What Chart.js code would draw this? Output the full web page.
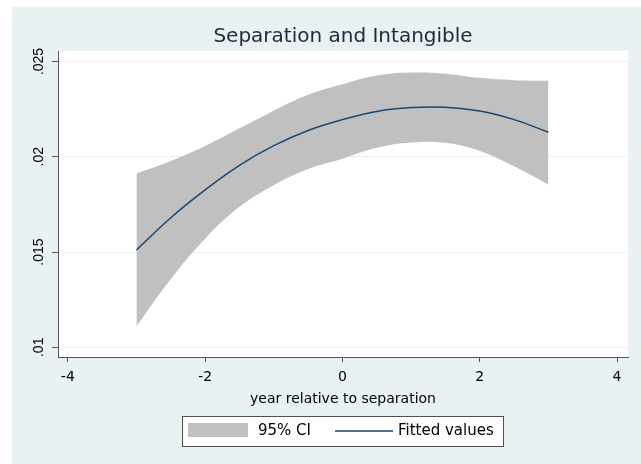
<!DOCTYPE html>
<html>
<head>
<meta charset="utf-8">
<title>Separation and Intangible</title>
<script src="https://cdn.jsdelivr.net/npm/chart.js@4.4.1/dist/chart.umd.min.js"></script>
<style>
    html, body { margin: 0; padding: 0; width: 641px; height: 464px; overflow: hidden; background: #ffffff; }
    #caption { position: absolute; left: 0; top: 0; width: 641px; height: 7px; overflow: hidden; }
    #caption span { position: absolute; left: 197px; top: -22px; font: bold 21px/21px "Liberation Serif", serif; white-space: nowrap; color: #000; }
    #panel { position: absolute; left: 12px; top: 7px; width: 629px; height: 457px; background: #e9f1f2; overflow: hidden; }
    #chart { position: absolute; left: 0; top: 0; width: 662px; height: 457px; }
</style>
</head>
<body>
<div id="caption"><span>(a) Separation and Intangible</span></div>
<div id="panel"><canvas id="chart" width="662" height="457"></canvas></div>
<script>
// Valeurs (ajustement quadratique + IC 95%)
const years = [-3, -2.5, -2, -1.5, -1, -0.5, 0, 0.5, 1, 1.5, 2, 2.5, 3];
const fitted = [0.01511, 0.01680, 0.01826, 0.01955, 0.02058, 0.02138, 0.02195, 0.02238, 0.02258, 0.02260, 0.02240, 0.02195, 0.02129];
const ciUpper = [0.01912, 0.01978, 0.02057, 0.02149, 0.02242, 0.02325, 0.02380, 0.02426, 0.02442, 0.02436, 0.02414, 0.02402, 0.02399];
const ciLower = [0.01110, 0.01358, 0.01570, 0.01737, 0.01851, 0.01936, 0.01990, 0.02047, 0.02075, 0.02073, 0.02030, 0.01950, 0.01854];

const xTicks = [-4, -2, 0, 2, 4];
const yTicks = [0.01, 0.015, 0.02, 0.025];

const chartTitle = 'Separation and Intangible';
const xTitle = 'year relative to separation';
const ciLabel = '95% CI';
const fitLabel = 'Fitted values';

const toPoints = values => values.map((v, i) => ({ x: years[i], y: v }));

// fond blanc de la zone de tracé
const plotBackground = {
    id: 'plotBackground',
    beforeDraw(chart) {
        const { ctx, chartArea: a } = chart;
        ctx.save();
        ctx.fillStyle = '#ffffff';
        ctx.fillRect(a.left, a.top, a.right - a.left, a.bottom - a.top);
        ctx.restore();
    }
};

// légende encadrée façon Stata
const boxedLegend = {
    id: 'boxedLegend',
    afterDraw(chart) {
        const ctx = chart.ctx;
        const cx = chart.width / 2;
        const top = chart.height - 48;
        const ds = chart.data.datasets;
        ctx.save();
        ctx.fillStyle = '#ffffff';
        ctx.fillRect(cx - 160.5, top + 0.5, 321, 30);
        ctx.strokeStyle = '#505050';
        ctx.lineWidth = 1;
        ctx.strokeRect(cx - 160.5, top + 0.5, 321, 30);

        ctx.fillStyle = ds[1].backgroundColor;
        ctx.fillRect(cx - 155, top + 7, 60, 14);

        ctx.strokeStyle = ds[0].borderColor;
        ctx.lineWidth = 1.5;
        ctx.beginPath();
        ctx.moveTo(cx - 8, top + 15);
        ctx.lineTo(cx + 50, top + 15);
        ctx.stroke();

        ctx.fillStyle = '#000000';
        ctx.font = '15px "DejaVu Sans"';
        ctx.textBaseline = 'middle';
        ctx.textAlign = 'left';
        ctx.fillText(ds[1].label, cx - 85, top + 15);
        ctx.fillText(ds[0].label, cx + 55, top + 15);
        ctx.restore();
    }
};

new Chart(document.getElementById('chart'), {
    type: 'line',
    data: {
        datasets: [
            {
                label: fitLabel,
                data: toPoints(fitted),
                borderColor: '#1a476f',
                borderWidth: 1.5,
                pointRadius: 0,
                tension: 0.4,
                fill: false
            },
            {
                label: ciLabel,
                data: toPoints(ciUpper),
                borderColor: 'rgba(0,0,0,0)',
                borderWidth: 0,
                backgroundColor: '#c0c0c0',
                pointRadius: 0,
                tension: 0.4,
                fill: '+1'
            },
            {
                label: ciLabel + ' (lower)',
                data: toPoints(ciLower),
                borderColor: 'rgba(0,0,0,0)',
                borderWidth: 0,
                pointRadius: 0,
                tension: 0.4,
                fill: false
            }
        ]
    },
    options: {
        responsive: false,
        animation: false,
        devicePixelRatio: 1,
        layout: { padding: { top: 0, left: 0, right: 0, bottom: 58.1 } },
        plugins: {
            legend: { display: false },
            tooltip: { enabled: false },
            title: {
                display: true,
                text: chartTitle,
                color: '#1e2a3c',
                font: { family: 'DejaVu Sans', size: 20, weight: 'normal' },
                padding: { top: 17.7, bottom: 2.3 }
            }
        },
        scales: {
            x: {
                type: 'linear',
                min: -4.143,
                max: 4.16,
                afterBuildTicks: s => { s.ticks = xTicks.map(v => ({ value: v })); },
                grid: { drawOnChartArea: false, tickLength: 5, tickColor: '#555555' },
                border: { color: '#555555', width: 1 },
                ticks: {
                    padding: 6.5,
                    color: '#000000',
                    maxRotation: 0,
                    font: { family: 'DejaVu Sans', size: 14 },
                    callback: v => String(v)
                },
                title: {
                    display: true,
                    text: xTitle,
                    color: '#000000',
                    font: { family: 'DejaVu Sans', size: 14, lineHeight: 1 },
                    padding: { top: 0, bottom: 0 }
                }
            },
            y: {
                type: 'linear',
                position: 'left',
                min: 0.009486,
                max: 0.02555,
                afterBuildTicks: s => { s.ticks = yTicks.map(v => ({ value: v })); },
                afterFit: s => { s.width = 46; },
                grid: { color: '#e8f0f0', tickLength: 6, tickColor: '#555555' },
                border: { color: '#555555', width: 1 },
                ticks: {
                    minRotation: 90,
                    maxRotation: 90,
                    crossAlign: 'center',
                    padding: -1,
                    color: '#000000',
                    font: { family: 'Liberation Sans', size: 14 },
                    callback: v => String(+v.toFixed(3)).replace(/^0\./, '.')
                }
            },
            // axe vide à droite pour centrer titre et légende sur la zone de tracé
            yRight: {
                type: 'linear',
                position: 'right',
                afterFit: s => { s.width = 46; },
                grid: { display: false },
                border: { display: false },
                ticks: { display: false }
            }
        }
    },
    plugins: [plotBackground, boxedLegend]
});
</script>
</body>
</html>
